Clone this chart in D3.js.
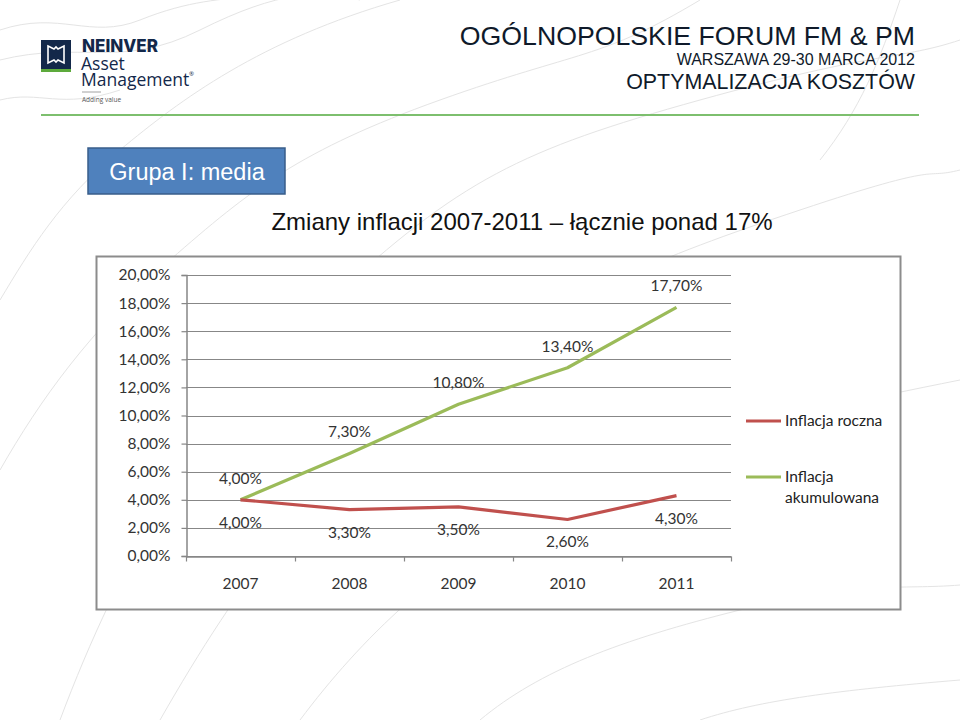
<!DOCTYPE html>
<html><head><meta charset="utf-8">
<script src="https://cdn.jsdelivr.net/npm/d3@7"></script>
<style>html,body{margin:0;padding:0;background:#fff;}svg{display:block;}</style>
</head><body>
<svg id="c" width="960" height="720"></svg>
<script>
const years = ["2007","2008","2009","2010","2011"];
const annual = [4.0, 3.3, 3.5, 2.6, 4.3];
const cumulative = [4.0, 7.3, 10.8, 13.4, 17.7];
const seriesNames = ["Inflacja roczna", "Inflacja akumulowana"];
const yTicks = [0,2,4,6,8,10,12,14,16,18,20];

const svg = d3.select("#c");
const fmt = v => d3.format(".2f")(v).replace(".", ",") + "%";

// faint background contour lines
const bg = svg.append("g").attr("fill","none").attr("stroke","#e4e4e4").attr("stroke-width",1);
[
 "M0,30 C60,10 90,40 140,20 S220,0 260,-5",
 "M0,60 C80,40 120,70 200,30 S320,-10 360,0",
 "M0,100 C40,90 60,110 120,90",
 "M60,720 C120,560 200,420 330,300 S520,150 700,100 S900,60 960,40",
 "M160,720 C240,580 320,470 450,380 S650,260 800,210 S920,180 960,170",
 "M300,720 C360,640 440,560 560,500 S760,420 960,380",
 "M480,720 C540,670 620,640 740,610 S900,590 960,585",
 "M0,300 C30,250 60,200 120,150 S260,40 400,0",
 "M0,470 C40,400 90,330 170,260 S300,150 440,100 S600,60 700,0",
 "M700,720 C760,700 840,690 960,680",
 "M900,0 C880,60 860,110 820,160"
].forEach(d => bg.append("path").attr("d", d));

// Header: logo
const logo = svg.append("g");
logo.append("rect").attr("x",41).attr("y",40).attr("width",30).attr("height",29).attr("fill","#13284a");
logo.append("rect").attr("x",41).attr("y",69).attr("width",30).attr("height",3).attr("fill","#5daa3c");
logo.append("path").attr("d","M48,46 L54,49 L56,47 L58,49 L64,46 L64,63 L58,60 L56,62 L54,60 L48,63 Z")
  .attr("fill","none").attr("stroke","#fff").attr("stroke-width",1.6);
logo.append("text").attr("x",82).attr("y",52).attr("font-family","Inter, 'Open Sans', sans-serif")
  .attr("font-weight",800).attr("font-size",17).attr("fill","#13284a").text("NEINVER");
logo.append("text").attr("x",81).attr("y",70).attr("font-family","'Open Sans', sans-serif")
  .attr("font-size",17.5).attr("fill","#13284a").text("Asset");
logo.append("text").attr("x",81).attr("y",86).attr("font-family","'Open Sans', sans-serif")
  .attr("font-size",17.5).attr("fill","#13284a").text("Management");
logo.append("text").attr("x",189).attr("y",76).attr("font-family","'Open Sans', sans-serif")
  .attr("font-size",6).attr("fill","#13284a").text("®");
logo.append("line").attr("x1",82).attr("x2",101).attr("y1",92).attr("y2",92).attr("stroke","#8a8a8a").attr("stroke-width",0.8);
logo.append("text").attr("x",82).attr("y",102).attr("font-family","'Open Sans', sans-serif")
  .attr("font-size",6.5).attr("fill","#555").text("Adding value");

// Header titles
const hf = "'Liberation Sans', Arial, sans-serif";
svg.append("text").attr("x",915).attr("y",45).attr("text-anchor","end").attr("font-family",hf)
  .attr("font-size",26.7).attr("fill","#0f1a2a").text("OGÓLNOPOLSKIE FORUM FM & PM");
svg.append("text").attr("x",915).attr("y",65).attr("text-anchor","end").attr("font-family",hf)
  .attr("font-size",16).attr("fill","#0f1a2a").text("WARSZAWA 29-30 MARCA 2012");
svg.append("text").attr("x",915).attr("y",89).attr("text-anchor","end").attr("font-family",hf)
  .attr("font-size",21.4).attr("fill","#0f1a2a").text("OPTYMALIZACJA KOSZTÓW");
svg.append("line").attr("x1",41).attr("x2",919).attr("y1",115).attr("y2",115)
  .attr("stroke","#7dbf6e").attr("stroke-width",2);

// Blue box
svg.append("rect").attr("x",88).attr("y",148).attr("width",197).attr("height",46)
  .attr("fill","#4f81bd").attr("stroke","#385d8a").attr("stroke-width",1.5);
svg.append("text").attr("x",187).attr("y",180).attr("text-anchor","middle").attr("font-family",hf)
  .attr("font-size",23.5).attr("fill","#fff").text("Grupa I: media");

svg.append("text").attr("x",522).attr("y",230).attr("text-anchor","middle").attr("font-family",hf)
  .attr("font-size",24).attr("fill","#111").text("Zmiany inflacji 2007-2011 – łącznie ponad 17%");

// Chart frame
svg.append("rect").attr("x",96.5).attr("y",256.5).attr("width",804).attr("height",353)
  .attr("fill","#fff").attr("stroke","#8c8c8c").attr("stroke-width",2);

const cf = "Lato, 'Open Sans', sans-serif";
const x = d3.scaleBand().domain(years).range([186, 731]);
const y = d3.scaleLinear().domain([0, 20]).range([556, 275]);

const g = svg.append("g");
// gridlines
g.append("g").selectAll("line").data(yTicks).join("line")
  .attr("x1",186).attr("x2",731).attr("y1",d=>Math.round(y(d))+0.5).attr("y2",d=>Math.round(y(d))+0.5)
  .attr("stroke","#878787").attr("stroke-width",1.2);

// y axis
const yAxis = g.append("g").attr("transform","translate(186.5,0)")
  .call(d3.axisLeft(y).tickValues(yTicks).tickSize(5).tickPadding(11).tickFormat(fmt));
yAxis.select(".domain").attr("stroke","#878787").attr("stroke-width",1.5);
yAxis.selectAll(".tick line").attr("stroke","#878787").attr("stroke-width",1.2);
yAxis.selectAll(".tick text").attr("font-family",cf).attr("font-size",15.5).attr("fill","#333");

// x axis
const xAxis = g.append("g").attr("transform","translate(0,556.5)")
  .call(d3.axisBottom(x).tickSize(0).tickPadding(21));
xAxis.select(".domain").attr("stroke","#878787").attr("stroke-width",1.5);
xAxis.selectAll(".tick text").attr("font-family",cf).attr("font-size",15.5).attr("fill","#333");
// boundary tick marks
const bounds = years.map(d => x(d)).concat([x.range()[1]]);
xAxis.append("g").selectAll("line").data(bounds).join("line")
  .attr("x1",d=>Math.round(d)+0.5).attr("x2",d=>Math.round(d)+0.5).attr("y1",0).attr("y2",5)
  .attr("stroke","#878787").attr("stroke-width",1.2);

const cx = d => x(d) + x.bandwidth()/2;
const line = d3.line().x(d => cx(d.year)).y(d => y(d.v));
const annualData = years.map((yr,i) => ({year: yr, v: annual[i]}));
const cumData = years.map((yr,i) => ({year: yr, v: cumulative[i]}));

g.append("path").datum(cumData).attr("d", line).attr("fill","none")
  .attr("stroke","#9bbb59").attr("stroke-width",3.2).attr("stroke-linejoin","round");
g.append("path").datum(annualData).attr("d", line).attr("fill","none")
  .attr("stroke","#c0504d").attr("stroke-width",3.2).attr("stroke-linejoin","round");

// data labels
g.append("g").selectAll("text").data(cumData).join("text")
  .attr("x", d => cx(d.year)).attr("y", d => y(d.v) - 16)
  .attr("text-anchor","middle").attr("font-family",cf).attr("font-size",15.5).attr("fill","#333")
  .text(d => fmt(d.v));
g.append("g").selectAll("text").data(annualData).join("text")
  .attr("x", d => cx(d.year)).attr("y", d => y(d.v) + 28)
  .attr("text-anchor","middle").attr("font-family",cf).attr("font-size",15.5).attr("fill","#333")
  .text(d => fmt(d.v));

// legend
const leg = svg.append("g");
leg.append("line").attr("x1",746).attr("x2",781).attr("y1",421).attr("y2",421)
  .attr("stroke","#c0504d").attr("stroke-width",3.2);
leg.append("text").attr("x",785).attr("y",426).attr("font-family",cf).attr("font-size",15.5).attr("fill","#222")
  .text(seriesNames[0]);
leg.append("line").attr("x1",746).attr("x2",781).attr("y1",477).attr("y2",477)
  .attr("stroke","#9bbb59").attr("stroke-width",3.2);
const t2 = leg.append("text").attr("font-family",cf).attr("font-size",15.5).attr("fill","#222");
t2.append("tspan").attr("x",785).attr("y",482).text("Inflacja");
t2.append("tspan").attr("x",785).attr("y",503).text("akumulowana");
</script>
</body></html>
